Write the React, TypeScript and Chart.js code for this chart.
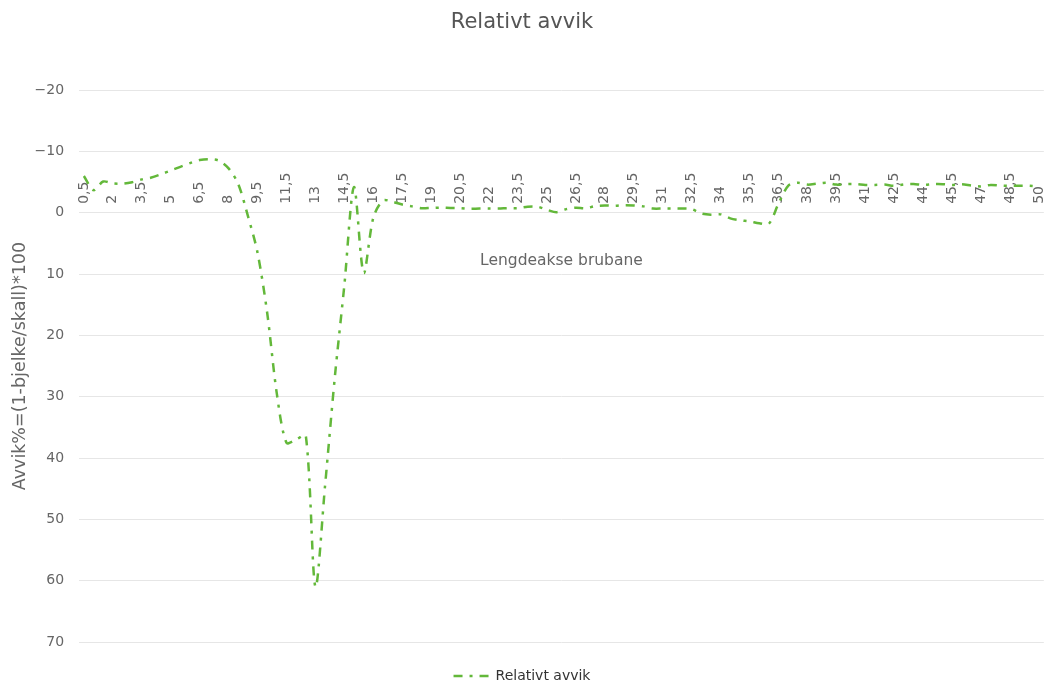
import React, { useEffect, useRef } from 'react';
import { Chart, registerables, CategoryScale } from 'chart.js';

Chart.register(...registerables);

// Category scale whose rotated labels start at the anchor and run upward (above the zero line)
class UpLabelCategoryScale extends CategoryScale {
  static id = 'upLabelCategory';
  static defaults = CategoryScale.defaults;
  _getXAxisLabelAlignment() {
    return 'left';
  }
}
Chart.register(UpLabelCategoryScale);

const chartTitle = 'Relativt avvik';
const seriesName = 'Relativt avvik';
const xAxisTitle = 'Lengdeakse brubane';
const yAxisTitle = 'Avvik%=(1-bjelke/skall)*100';

const categories: string[] = [
  '0,5', '1', '1,5', '2', '2,5', '3', '3,5', '4', '4,5', '5',
  '5,5', '6', '6,5', '7', '7,5', '8', '8,5', '9', '9,5', '10',
  '11', '11,5', '12', '12,5', '13', '13,5', '14', '14,5', '15', '15,5',
  '16', '16,5', '17', '17,5', '18', '18,5', '19', '19,5', '20', '20,5',
  '21', '21,5', '22', '22,5', '23', '23,5', '24', '24,5', '25', '25,5',
  '26', '26,5', '27', '27,5', '28', '28,5', '29', '29,5', '30', '30,5',
  '31', '31,5', '32', '32,5', '33', '33,5', '34', '34,5', '35', '35,5',
  '36', '36,2', '36,5', '37', '37,5', '38', '38,5', '39', '39,5', '40',
  '40,5', '41', '41,5', '42', '42,5', '43', '43,5', '44', '44,5', '45',
  '45,5', '46', '46,5', '47', '47,5', '48', '48,5', '49', '49,5', '50',
];

const relativeDeviation: number[] = [
  -6.0, -3.7, -5.1, -4.8, -4.75, -5.0, -5.45, -5.75, -6.3, -6.9,
  -7.5, -8.1, -8.6, -8.75, -8.5, -7.25, -4.7, 0.5, 6.5, 16.3,
  29.5, 37.5, 37.0, 36.3, 61.0, 44.5, 27.0, 11.8, -4.2, 9.8,
  0.8, -2.0, -1.8, -1.35, -1.05, -0.75, -0.8, -0.85, -0.8, -0.78,
  -0.65, -0.7, -0.7, -0.7, -0.77, -0.77, -1.0, -1.0, -0.5, -0.1,
  -0.6, -0.83, -0.73, -1.1, -1.2, -1.15, -1.25, -1.2, -1.05, -0.7,
  -0.7, -0.7, -0.7, -0.6, 0.1, 0.3, 0.25, 0.9, 1.2, 1.4,
  1.7, 1.8, -1.5, -4.4, -4.9, -4.6, -4.75, -4.9, -4.6, -4.7,
  -4.7, -4.55, -4.55, -4.6, -4.4, -4.65, -4.7, -4.55, -4.67, -4.67,
  -4.55, -4.67, -4.45, -4.3, -4.55, -4.45, -4.4, -4.4, -4.4, -4.25,
];

const yMin = -20;
const yMax = 70;
const yStep = 10;
const labelEvery = 3;

const FONT = 'DejaVu Sans';
const GREEN = '#63b83a';
const DASH = [9, 7, 3, 7];

export default function App() {
  const canvasRef = useRef<HTMLCanvasElement | null>(null);

  useEffect(() => {
    if (!canvasRef.current) return;
    const chart = new Chart(canvasRef.current, {
      type: 'line',
      data: {
        labels: categories,
        datasets: [
          {
            label: seriesName,
            data: relativeDeviation,
            borderColor: GREEN,
            backgroundColor: GREEN,
            borderWidth: 2.5,
            borderDash: DASH,
            pointRadius: 0,
            pointHoverRadius: 0,
            pointStyle: 'line',
            tension: 0.3,
            fill: false,
          },
        ],
      },
      options: {
        animation: false,
        responsive: true,
        maintainAspectRatio: false,
        layout: { padding: { left: 0, right: 0, top: 0, bottom: -9 } },
        font: { family: FONT },
        plugins: {
          title: {
            display: true,
            text: chartTitle,
            color: '#555555',
            font: { family: FONT, size: 21, weight: 'normal' },
            padding: { top: 10, bottom: 55 },
          },
          legend: {
            position: 'bottom',
            labels: {
              usePointStyle: true,
              pointStyleWidth: 35,
              color: '#333333',
              font: { family: FONT, size: 14 },
              padding: 27,
              generateLabels: (c: any) => {
                const items = (Chart as any).defaults.plugins.legend.labels.generateLabels(c);
                items.forEach((it: any) => {
                  it.lineDash = DASH;
                  it.lineWidth = 2.5;
                  it.strokeStyle = GREEN;
                });
                return items;
              },
            },
          },
          tooltip: { enabled: false },
        },
        scales: {
          x: {
            type: 'upLabelCategory' as any,
            position: { y: 0 } as any,
            offset: true,
            grid: { display: false, drawTicks: false },
            border: { display: false },
            ticks: {
              autoSkip: false,
              minRotation: 90,
              maxRotation: 90,
              padding: -9,
              color: '#666666',
              font: { family: FONT, size: 14, lineHeight: 1 },
              callback: (_v: any, idx: number) => (idx % labelEvery === 0 ? categories[idx] : ''),
            },
            title: {
              display: true,
              text: xAxisTitle,
              color: '#666666',
              font: { family: FONT, size: 15.5 },
              padding: { top: 26, bottom: 0 },
            },
          },
          y: {
            reverse: true,
            min: yMin,
            max: yMax,
            grid: { color: '#e6e6e6', drawTicks: true, tickLength: 14, tickColor: 'rgba(0,0,0,0)', lineWidth: 1 },
            border: { display: false },
            ticks: {
              stepSize: yStep,
              padding: 1,
              color: '#666666',
              font: { family: FONT, size: 14 },
              callback: (v: any) => (Number(v) < 0 ? '\u2212' + Math.abs(Number(v)) : String(v)),
            },
            title: {
              display: true,
              text: yAxisTitle,
              color: '#666666',
              font: { family: FONT, size: 17.5 },
              padding: { top: 9.5, bottom: 3 },
            },
          },
        },
      },
    });
    return () => chart.destroy();
  }, []);

  return (
    <div style={{ position: 'fixed', left: 0, top: 0, width: 1044, height: 684, background: '#ffffff' }}>
      <canvas ref={canvasRef} />
    </div>
  );
}
